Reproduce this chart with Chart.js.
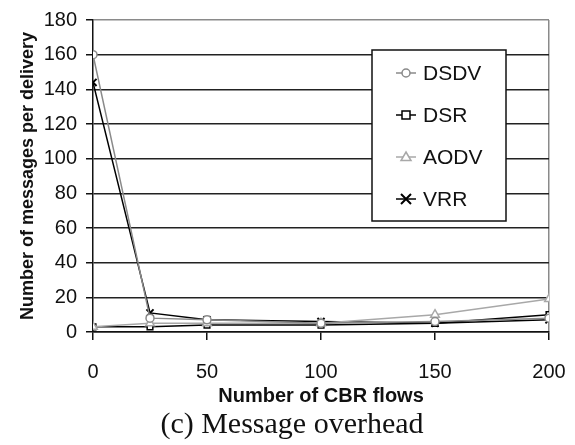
<!DOCTYPE html>
<html>
<head>
<meta charset="utf-8">
<script src="https://cdn.jsdelivr.net/npm/chart.js@4.4.1/dist/chart.umd.min.js"></script>
<style>
	html, body { margin: 0; padding: 0; background: #fff; }
	#wrap { width: 575px; height: 445px; }
</style>
</head>
<body>
<div id="wrap"><canvas id="chart"></canvas></div>
<script>
const flows = [0, 25, 50, 100, 150, 200];
const dsdv = [160, 8, 7, 5, 6, 8];
const dsr = [3, 3, 4, 4, 5, 10];
const aodv = [3, 5, 5, 5, 10, 19];
const vrr = [144, 11, 7, 6, 5, 7];
const seriesNames = ["DSDV", "DSR", "AODV", "VRR"];

const toPoints = values => values.map((v, i) => ({ x: flows[i], y: v }));

const styles = [
	{ color: "#8a8a8a", point: "circle", fill: "#fff", radius: 4 },
	{ color: "#000", point: "rect", fill: "#fff", radius: 4 },
	{ color: "#a8a8a8", point: "triangle", fill: "#fff", radius: 5 },
	{ color: "#000", point: "crossRot", fill: "#000", radius: 5 },
];

const drawMarker = (ctx, style, x, y) => {
	const r = style.radius;
	ctx.save();
	ctx.strokeStyle = style.color;
	ctx.fillStyle = style.fill;
	ctx.lineWidth = 1.5;
	ctx.beginPath();
	ctx.moveTo(x - 10, y);
	ctx.lineTo(x + 10, y);
	ctx.stroke();
	ctx.beginPath();
	if (style.point === "circle") {
		ctx.arc(x, y, r, 0, Math.PI * 2);
		ctx.fill();
		ctx.stroke();
	} else if (style.point === "rect") {
		ctx.rect(x - r, y - r, r * 2, r * 2);
		ctx.fill();
		ctx.stroke();
	} else if (style.point === "triangle") {
		ctx.moveTo(x, y - r);
		ctx.lineTo(x + r, y + r * 0.7);
		ctx.lineTo(x - r, y + r * 0.7);
		ctx.closePath();
		ctx.fill();
		ctx.stroke();
	} else {
		ctx.lineWidth = 2;
		ctx.moveTo(x - r, y - r);
		ctx.lineTo(x + r, y + r);
		ctx.moveTo(x + r, y - r);
		ctx.lineTo(x - r, y + r);
		ctx.stroke();
	}
	ctx.restore();
};

const boxLegend = {
	id: "boxLegend",
	afterDatasetsDraw(chart) {
		const { ctx } = chart;
		const left = 372, top = 50, w = 134, h = 171;
		ctx.save();
		ctx.fillStyle = "#fff";
		ctx.fillRect(left, top, w, h);
		ctx.strokeStyle = "#111";
		ctx.lineWidth = 1.5;
		ctx.strokeRect(left, top, w, h);
		ctx.font = "21px 'Liberation Sans', Arial, sans-serif";
		ctx.textBaseline = "middle";
		seriesNames.forEach((name, i) => {
			const y = 73 + i * 42;
			drawMarker(ctx, styles[i], 406, y);
			ctx.fillStyle = "#111";
			ctx.fillText(name, 423, y + 1);
		});
		ctx.restore();
	},
};

const caption = {
	id: "caption",
	afterDraw(chart) {
		const { ctx } = chart;
		ctx.save();
		ctx.font = "30px 'Liberation Serif', 'Times New Roman', serif";
		ctx.fillStyle = "#111";
		ctx.textAlign = "center";
		ctx.textBaseline = "middle";
		ctx.fillText("(c) Message overhead", 292, 425);
		ctx.restore();
	},
};

const datasets = [0, 2, 1, 3].map(i => ({
	label: seriesNames[i],
	data: toPoints([dsdv, dsr, aodv, vrr][i]),
	borderColor: styles[i].color,
	backgroundColor: styles[i].fill,
	pointStyle: styles[i].point,
	pointRadius: styles[i].radius,
	pointBorderColor: styles[i].color,
	pointBackgroundColor: styles[i].fill,
	pointBorderWidth: i === 3 ? 2 : 1.5,
	borderWidth: 1.5,
	tension: 0,
}));

new Chart(document.getElementById("chart"), {
	type: "line",
	data: { datasets },
	plugins: [boxLegend, caption],
	options: {
		responsive: true,
		maintainAspectRatio: false,
		animation: false,
		layout: { padding: { left: 0, right: 26, top: 20, bottom: 37 } },
		plugins: {
			legend: { display: false },
			tooltip: { enabled: false },
		},
		scales: {
			x: {
				type: "linear",
				min: 0,
				max: 200,
				afterFit: s => {
					s.height = 76;
					s.paddingLeft = 0;
					s.paddingRight = 0;
				},
				ticks: {
					stepSize: 50,
					color: "#111",
					padding: 20,
					font: { family: "'Liberation Sans', Arial, sans-serif", size: 20 },
				},
				grid: {
					color: c => (c.tick && c.tick.value === 200 ? "#8a8a8a" : "rgba(0,0,0,0)"),
					tickColor: "#111",
					tickLength: 8,
					lineWidth: 1.5,
				},
				border: { color: "#111", width: 1.5 },
				title: {
					display: true,
					text: "Number of CBR flows",
					color: "#111",
					padding: { top: 0, bottom: 0 },
					font: { family: "'Liberation Sans', Arial, sans-serif", size: 20, weight: "bold" },
				},
			},
			y: {
				min: 0,
				max: 180,
				afterFit: s => {
					s.width = 93;
					s.paddingTop = 0;
					s.paddingBottom = 0;
				},
				ticks: {
					stepSize: 20,
					color: "#111",
					padding: 9,
					font: { family: "'Liberation Sans', Arial, sans-serif", size: 20 },
				},
				grid: {
					color: c => (c.tick && c.tick.value === 180 ? "#8a8a8a" : "#222"),
					tickColor: "#111",
					tickLength: 7,
					lineWidth: 1.5,
				},
				border: { color: "#111", width: 1.5 },
				title: {
					display: true,
					text: "Number of messages per delivery",
					color: "#111",
					padding: { top: 17, bottom: 0 },
					font: { family: "'Liberation Sans', Arial, sans-serif", size: 18, weight: "bold" },
				},
			},
		},
	},
});
</script>
</body>
</html>
